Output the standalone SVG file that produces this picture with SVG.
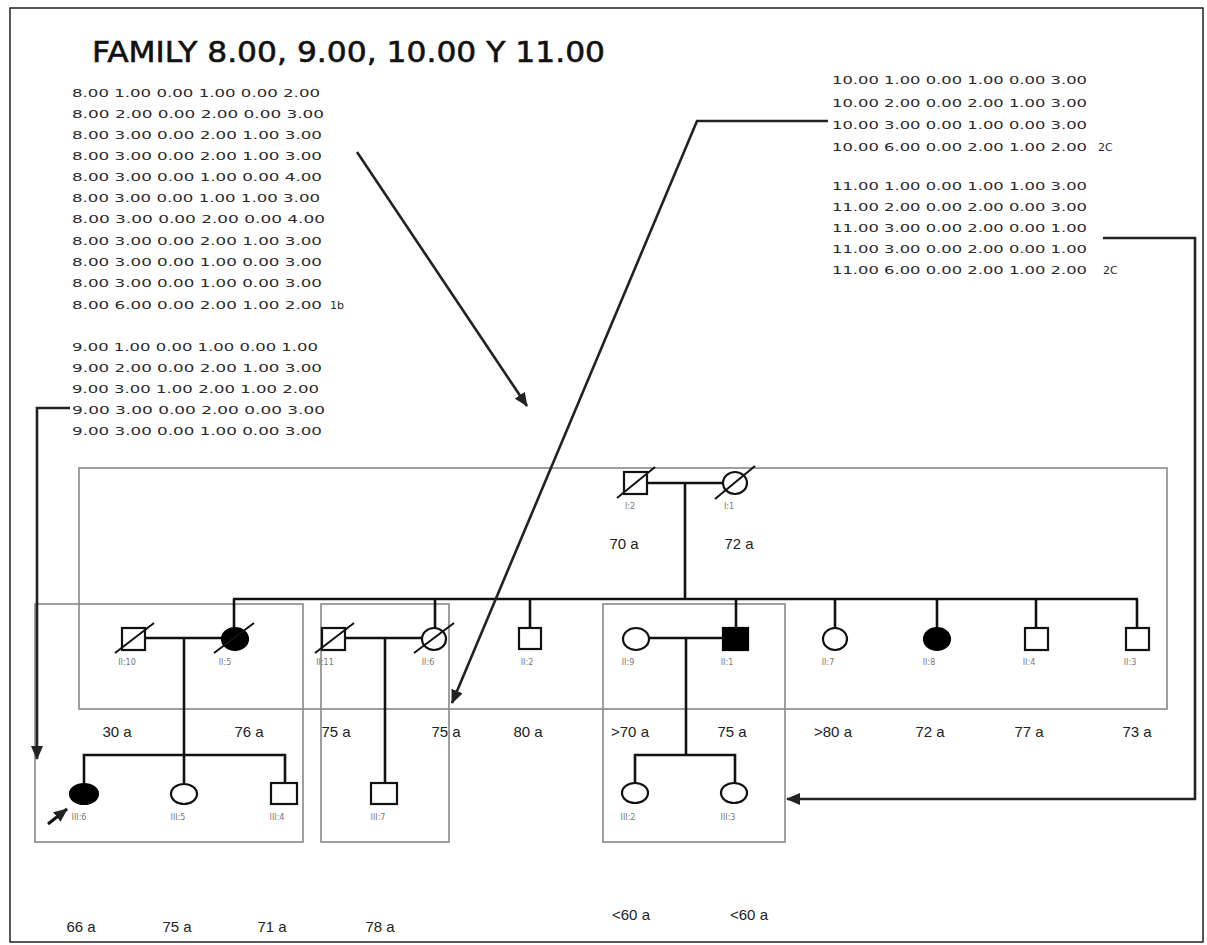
<svg xmlns="http://www.w3.org/2000/svg" width="1207" height="945" viewBox="0 0 1207 945">
<style>
.bg{fill:#fff}
.frame{fill:none;stroke:#222;stroke-width:1.5}
.box{fill:none;stroke:#888;stroke-width:1.6}
.sym{fill:#fff;stroke:#111;stroke-width:2.2}
.aff{fill:#000;stroke:#000;stroke-width:2.2}
.sl{stroke:#111;stroke-width:2}
.ln{fill:none;stroke:#111;stroke-width:2.6}
.con{fill:none;stroke:#222;stroke-width:2.6}
.title{font-family:"DejaVu Sans",sans-serif;font-size:29px;fill:#111;stroke:#111;stroke-width:0.6}
.dat{font-family:"DejaVu Sans",sans-serif;font-size:11px;fill:#2a2a2a}
.id{font-family:"DejaVu Sans",sans-serif;font-size:8px;fill:#777;text-anchor:middle}
.age{font-family:"Liberation Sans",Arial,sans-serif;font-size:15px;fill:#222;text-anchor:middle}
</style>
<defs>
<marker id="ah" markerUnits="userSpaceOnUse" markerWidth="14" markerHeight="12" viewBox="0 0 14 12" refX="13" refY="6" orient="auto">
<path d="M0,0 L14,6 L0,12 Z" fill="#222"/>
</marker>
</defs>
<rect class="bg" x="0" y="0" width="1207" height="945"/>
<rect class="frame" x="10" y="8" width="1193" height="934"/>

<text class="title" x="92" y="62" textLength="513" lengthAdjust="spacingAndGlyphs">FAMILY 8.00, 9.00, 10.00 Y 11.00</text>

<g id="data8">
<text class="dat" x="72" y="97" textLength="248" lengthAdjust="spacingAndGlyphs">8.00 1.00 0.00 1.00 0.00 2.00</text>
<text class="dat" x="72" y="118" textLength="252" lengthAdjust="spacingAndGlyphs">8.00 2.00 0.00 2.00 0.00 3.00</text>
<text class="dat" x="72" y="139" textLength="250" lengthAdjust="spacingAndGlyphs">8.00 3.00 0.00 2.00 1.00 3.00</text>
<text class="dat" x="72" y="160" textLength="250" lengthAdjust="spacingAndGlyphs">8.00 3.00 0.00 2.00 1.00 3.00</text>
<text class="dat" x="72" y="181" textLength="250" lengthAdjust="spacingAndGlyphs">8.00 3.00 0.00 1.00 0.00 4.00</text>
<text class="dat" x="72" y="202" textLength="248" lengthAdjust="spacingAndGlyphs">8.00 3.00 0.00 1.00 1.00 3.00</text>
<text class="dat" x="72" y="223" textLength="253" lengthAdjust="spacingAndGlyphs">8.00 3.00 0.00 2.00 0.00 4.00</text>
<text class="dat" x="72" y="245" textLength="250" lengthAdjust="spacingAndGlyphs">8.00 3.00 0.00 2.00 1.00 3.00</text>
<text class="dat" x="72" y="266" textLength="250" lengthAdjust="spacingAndGlyphs">8.00 3.00 0.00 1.00 0.00 3.00</text>
<text class="dat" x="72" y="287" textLength="250" lengthAdjust="spacingAndGlyphs">8.00 3.00 0.00 1.00 0.00 3.00</text>
<text class="dat" x="72" y="309" textLength="250" lengthAdjust="spacingAndGlyphs">8.00 6.00 0.00 2.00 1.00 2.00</text>
<text class="dat" x="330" y="309" font-size="12">1b</text>
</g>
<g id="data9">
<text class="dat" x="72" y="351" textLength="246" lengthAdjust="spacingAndGlyphs">9.00 1.00 0.00 1.00 0.00 1.00</text>
<text class="dat" x="72" y="372" textLength="250" lengthAdjust="spacingAndGlyphs">9.00 2.00 0.00 2.00 1.00 3.00</text>
<text class="dat" x="72" y="393" textLength="247" lengthAdjust="spacingAndGlyphs">9.00 3.00 1.00 2.00 1.00 2.00</text>
<text class="dat" x="72" y="414" textLength="253" lengthAdjust="spacingAndGlyphs">9.00 3.00 0.00 2.00 0.00 3.00</text>
<text class="dat" x="72" y="435" textLength="250" lengthAdjust="spacingAndGlyphs">9.00 3.00 0.00 1.00 0.00 3.00</text>
</g>
<g id="data10">
<text class="dat" x="832" y="84" textLength="255" lengthAdjust="spacingAndGlyphs">10.00 1.00 0.00 1.00 0.00 3.00</text>
<text class="dat" x="832" y="107" textLength="255" lengthAdjust="spacingAndGlyphs">10.00 2.00 0.00 2.00 1.00 3.00</text>
<text class="dat" x="832" y="129" textLength="255" lengthAdjust="spacingAndGlyphs">10.00 3.00 0.00 1.00 0.00 3.00</text>
<text class="dat" x="832" y="151" textLength="255" lengthAdjust="spacingAndGlyphs">10.00 6.00 0.00 2.00 1.00 2.00</text>
<text class="dat" x="1098" y="151" font-size="12">2C</text>
</g>
<g id="data11">
<text class="dat" x="832" y="190" textLength="255" lengthAdjust="spacingAndGlyphs">11.00 1.00 0.00 1.00 1.00 3.00</text>
<text class="dat" x="832" y="211" textLength="255" lengthAdjust="spacingAndGlyphs">11.00 2.00 0.00 2.00 0.00 3.00</text>
<text class="dat" x="832" y="232" textLength="255" lengthAdjust="spacingAndGlyphs">11.00 3.00 0.00 2.00 0.00 1.00</text>
<text class="dat" x="832" y="253" textLength="255" lengthAdjust="spacingAndGlyphs">11.00 3.00 0.00 2.00 0.00 1.00</text>
<text class="dat" x="832" y="274" textLength="255" lengthAdjust="spacingAndGlyphs">11.00 6.00 0.00 2.00 1.00 2.00</text>
<text class="dat" x="1103" y="274" font-size="12">2C</text>
</g>

<g id="boxes">
<rect class="box" x="79" y="468" width="1088" height="241"/>
<rect class="box" x="35" y="604" width="268" height="238"/>
<rect class="box" x="321" y="604" width="128" height="238"/>
<rect class="box" x="603" y="604" width="182" height="238"/>
</g>

<g id="connectors">
<line class="ln" x1="647" y1="483" x2="723" y2="483"/>
<line class="ln" x1="685" y1="483" x2="685" y2="599"/>
<line class="ln" x1="233" y1="599" x2="1138" y2="599"/>
<line class="ln" x1="234" y1="599" x2="234" y2="628"/>
<line class="ln" x1="435" y1="599" x2="435" y2="628"/>
<line class="ln" x1="530" y1="599" x2="530" y2="628"/>
<line class="ln" x1="736" y1="599" x2="736" y2="628"/>
<line class="ln" x1="835" y1="599" x2="835" y2="628"/>
<line class="ln" x1="937" y1="599" x2="937" y2="628"/>
<line class="ln" x1="1036" y1="599" x2="1036" y2="628"/>
<line class="ln" x1="1137" y1="599" x2="1137" y2="628"/>
<line class="ln" x1="145" y1="638" x2="222" y2="638"/>
<line class="ln" x1="184" y1="638" x2="184" y2="783"/>
<line class="ln" x1="345" y1="638" x2="422" y2="638"/>
<line class="ln" x1="385" y1="638" x2="385" y2="783"/>
<line class="ln" x1="649" y1="638" x2="722" y2="638"/>
<line class="ln" x1="686" y1="638" x2="686" y2="755"/>
<polyline class="ln" points="84,784 84,755 285,755 285,783"/>
<polyline class="ln" points="635,783 635,755 735,755 735,783"/>
<line class="con" x1="357" y1="152" x2="527" y2="406" stroke-width="2" marker-end="url(#ah)"/>
<polyline class="con" points="828,121 697,121 452,703" marker-end="url(#ah)"/>
<polyline class="con" points="70,408 37,408 37,759" marker-end="url(#ah)"/>
<polyline class="con" points="1103,238 1195,238 1195,799 787,799" marker-end="url(#ah)"/>
<line x1="48" y1="824" x2="67" y2="809" stroke="#111" stroke-width="3" marker-end="url(#ah)"/>
</g>

<g id="I2"><rect class="sym" x="624" y="472" width="23" height="22"/><line class="sl" x1="617" y1="498" x2="655" y2="467"/><text class="id" x="630" y="509">I:2</text></g>
<g id="I1"><ellipse class="sym" cx="735" cy="483" rx="12" ry="11"/><line class="sl" x1="715" y1="499" x2="755" y2="466"/><text class="id" x="729" y="509">I:1</text></g>

<g id="II10"><rect class="sym" x="122" y="628" width="23" height="22"/><line class="sl" x1="115" y1="653" x2="154" y2="623"/><text class="id" x="127" y="665">II:10</text></g>
<g id="II5"><ellipse class="aff" cx="235" cy="639" rx="13" ry="11"/><line class="sl" x1="214" y1="653" x2="254" y2="623"/><text class="id" x="225" y="665">II:5</text></g>
<g id="II11"><rect class="sym" x="322" y="628" width="23" height="22"/><line class="sl" x1="315" y1="653" x2="354" y2="623"/><text class="id" x="325" y="665">II:11</text></g>
<g id="II6"><ellipse class="sym" cx="434" cy="639" rx="12" ry="11"/><line class="sl" x1="414" y1="653" x2="454" y2="623"/><text class="id" x="428" y="665">II:6</text></g>
<g id="II2"><rect class="sym" x="519" y="628" width="22" height="21"/><text class="id" x="527" y="665">II:2</text></g>
<g id="II9"><ellipse class="sym" cx="636" cy="639" rx="13" ry="11"/><text class="id" x="628" y="665">II:9</text></g>
<g id="II1"><rect class="aff" x="723" y="628" width="25" height="22"/><text class="id" x="727" y="665">II:1</text></g>
<g id="II7"><ellipse class="sym" cx="835" cy="639" rx="12" ry="11"/><text class="id" x="828" y="665">II:7</text></g>
<g id="II8"><ellipse class="aff" cx="937" cy="639" rx="13" ry="11"/><text class="id" x="929" y="665">II:8</text></g>
<g id="II4"><rect class="sym" x="1025" y="628" width="23" height="22"/><text class="id" x="1029" y="665">II:4</text></g>
<g id="II3"><rect class="sym" x="1126" y="628" width="23" height="22"/><text class="id" x="1130" y="665">II:3</text></g>

<g id="III6"><ellipse class="aff" cx="84" cy="794" rx="14" ry="10"/><text class="id" x="79" y="820">III:6</text></g>
<g id="III5"><ellipse class="sym" cx="184" cy="794" rx="13" ry="10"/><text class="id" x="178" y="820">III:5</text></g>
<g id="III4"><rect class="sym" x="271" y="783" width="26" height="21"/><text class="id" x="277" y="820">III:4</text></g>
<g id="III7"><rect class="sym" x="371" y="783" width="26" height="21"/><text class="id" x="378" y="820">III:7</text></g>
<g id="III2"><ellipse class="sym" cx="635" cy="793" rx="13" ry="10"/><text class="id" x="628" y="820">III:2</text></g>
<g id="III3"><ellipse class="sym" cx="734" cy="793" rx="13" ry="10"/><text class="id" x="728" y="820">III:3</text></g>

<g id="ages">
<text class="age" x="624" y="549">70 a</text>
<text class="age" x="739" y="549">72 a</text>
<text class="age" x="117" y="737">30 a</text>
<text class="age" x="249" y="737">76 a</text>
<text class="age" x="336" y="737">75 a</text>
<text class="age" x="446" y="737">75 a</text>
<text class="age" x="528" y="737">80 a</text>
<text class="age" x="630" y="737">&gt;70 a</text>
<text class="age" x="732" y="737">75 a</text>
<text class="age" x="833" y="737">&gt;80 a</text>
<text class="age" x="930" y="737">72 a</text>
<text class="age" x="1029" y="737">77 a</text>
<text class="age" x="1137" y="737">73 a</text>
<text class="age" x="81" y="932">66 a</text>
<text class="age" x="177" y="932">75 a</text>
<text class="age" x="272" y="932">71 a</text>
<text class="age" x="380" y="932">78 a</text>
<text class="age" x="631" y="920">&lt;60 a</text>
<text class="age" x="749" y="920">&lt;60 a</text>
</g>
</svg>
